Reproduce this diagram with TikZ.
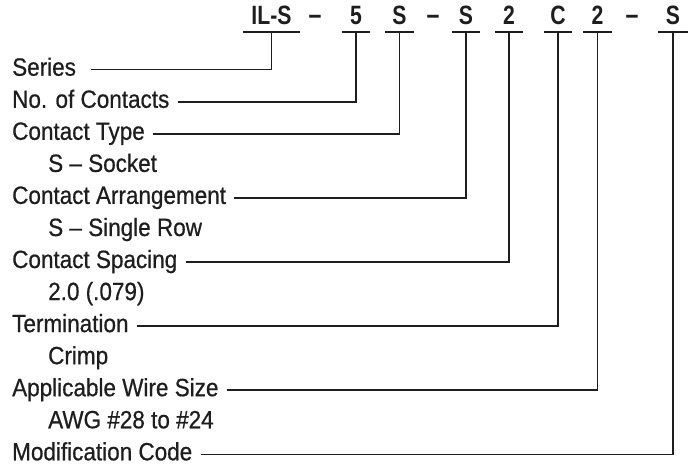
\documentclass[tikz,border=0pt]{standalone}
\usepackage{fontspec}
\setmainfont{Liberation Sans}[FakeStretch=0.9,FakeBold=0.6]
\newfontfamily\codefont{Liberation Sans}[FakeStretch=0.8]
\definecolor{ink}{HTML}{1E1E1E}
\begin{document}
\begin{tikzpicture}[x=1pt,y=-1pt,
  lbl/.style={anchor=base west,inner xsep=0pt,inner ysep=0pt,text height=12pt,text depth=0pt,
    font=\fontsize{25}{25}\selectfont,text=ink},
  code/.style={anchor=base,inner xsep=0pt,inner ysep=7pt,text height=18pt,text depth=0pt,
    minimum width=28pt,font=\codefont\bfseries\fontsize{26.5}{26}\selectfont,text=ink},
  dashsym/.style={anchor=base,inner sep=0pt,font=\codefont\bfseries\fontsize{29}{29}\selectfont,text=ink},
  uline/.style={draw=ink,line width=2.6pt},
  conn/.style={draw=ink,line width=1.6pt}]
\useasboundingbox (0,0) rectangle (689,465);
% code row
\node[code,minimum width=57pt] (c1) at (271.5,25) {IL-S};
\node[dashsym] (d1) at (315,25) {–};
\node[code] (c2) at (356,25) {5};
\node[code] (c3) at (399.5,25) {S};
\node[dashsym] (d2) at (433,25) {–};
\node[code] (c4) at (466,25) {S};
\node[code] (c5) at (509,25) {2};
\node[code] (c6) at (558,25) {C};
\node[code] (c7) at (597.5,25) {2};
\node[dashsym] (d3) at (632,25) {–};
\node[code,minimum width=30pt] (c8) at (673,25) {S};
\foreach \c in {c1,c2,c3,c4,c5,c6,c7,c8}
  \draw[uline] (\c.south west) -- (\c.south east);
% labels
\node[lbl] (l1) at (12,75.7) {Series};
\node[lbl] (l2) at (12,107.8) {No. of Contacts};
\node[lbl] (l3) at (12,139.8) {Contact Type};
\node[lbl] (s3) at (48,171.9) {S – Socket};
\node[lbl] (l4) at (12,203.9) {Contact Arrangement};
\node[lbl] (s4) at (48,236.0) {S – Single Row};
\node[lbl] (l5) at (12,268.0) {Contact Spacing};
\node[lbl] (s5) at (48,300.1) {2.0 (.079)};
\node[lbl] (l6) at (12,332.1) {Termination};
\node[lbl] (s6) at (48,364.2) {Crimp};
\node[lbl] (l7) at (12,396.2) {Applicable Wire Size};
\node[lbl] (s7) at (48,428.3) {AWG \#28 to \#24};
\node[lbl] (l8) at (12,460.3) {Modification Code};
% connectors
\draw[conn] ([xshift=15pt]l1.east) -| (c1.south);
\foreach \l/\c in {l2/c2,l3/c3,l4/c4,l5/c5,l6/c6,l7/c7,l8/c8}
  \draw[conn] ([xshift=8pt]\l.east) -| (\c.south);
\end{tikzpicture}
\end{document}
